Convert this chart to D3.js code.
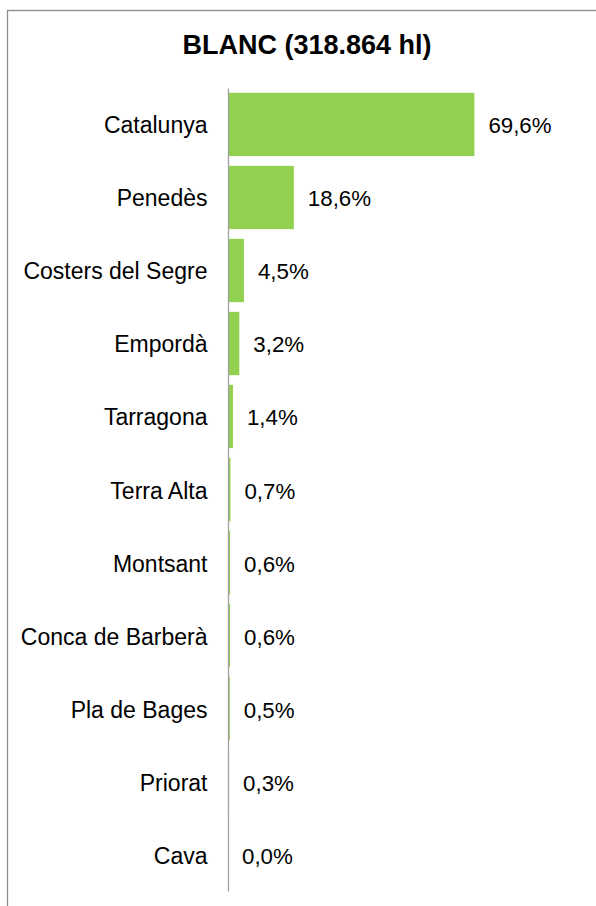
<!DOCTYPE html>
<html>
<head>
<meta charset="utf-8">
<script src="https://cdnjs.cloudflare.com/ajax/libs/d3/7.8.5/d3.min.js"></script>
<style>
  body { margin: 0; background: #fff; }
  svg { display: block; font-family: "Liberation Sans", Arial, sans-serif; }
</style>
</head>
<body>
<svg id="chart" width="596" height="906"></svg>
<script>
// data
var title = "BLANC (318.864 hl)"
var categories = ["Catalunya", "Penedès", "Costers del Segre", "Empordà", "Tarragona",
    "Terra Alta", "Montsant", "Conca de Barberà", "Pla de Bages", "Priorat", "Cava"]
var shares = [69.6, 18.6, 4.5, 3.2, 1.4, 0.7, 0.6, 0.6, 0.5, 0.3, 0.0]

var svg = d3.select("#chart")

//frame (right and bottom edges fall outside the picture)
svg.append("rect")
    .attr("x", 7.5).attr("y", 10.5)
    .attr("width", 620).attr("height", 920)
    .attr("fill", "none")
    .attr("stroke", "#8c8c8c")
    .attr("stroke-width", 1.3)

svg.append("text")
    .attr("x", 307).attr("y", 53.5)
    .attr("text-anchor", "middle")
    .attr("font-size", 27)
    .attr("font-weight", "bold")
    .attr("fill", "#000")
    .text(title)

var y = d3.scaleBand()
    .domain(categories)
    .range([88, 891])
    .paddingInner(0.133)
    .paddingOuter(0.066)

var x = d3.scaleLinear()
    .domain([0, 70])
    .range([228, 475.8])

var rows = categories.map(function(c, i) { return {cat: c, v: shares[i]} })

svg.selectAll("rect.bar")
    .data(rows).enter()
    .append("rect")
        .attr("class", "bar")
        .attr("x", x(0))
        .attr("y", function(d) { return y(d.cat) })
        .attr("width", function(d) { return x(d.v) - x(0) })
        .attr("height", y.bandwidth())
        .attr("fill", "#92d050")

//value labels
svg.selectAll("text.val")
    .data(rows).enter()
    .append("text")
        .attr("class", "val")
        .attr("x", function(d) { return x(d.v) + 14 })
        .attr("y", function(d) { return y(d.cat) + y.bandwidth() / 2 + 9 })
        .attr("font-size", 22.3)
        .attr("fill", "#000")
        .text(function(d) { return d.v.toFixed(1).replace(".", ",") + "%" })

//category axis
var axis = svg.append("g")
    .attr("transform", "translate(" + x(0) + ",0)")
    .call(d3.axisLeft(y).tickSize(0).tickSizeOuter(0).tickPadding(20.5))

axis.select(".domain")
    .attr("stroke", "#a0a0a0")
    .attr("stroke-width", 1.3)
axis.selectAll(".tick text")
    .attr("font-size", 23)
    .attr("font-family", "Liberation Sans, Arial, sans-serif")
    .attr("fill", "#000")
    .attr("dy", null)
    .attr("y", 9)
</script>
</body>
</html>
